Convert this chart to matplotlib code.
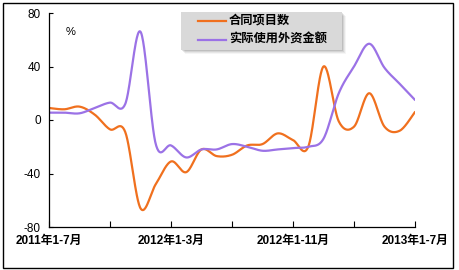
import numpy as np
import matplotlib
matplotlib.use("Agg")
import matplotlib.pyplot as plt
from matplotlib.patches import Rectangle

plt.rcParams['font.family'] = ['Liberation Sans', 'Noto Sans CJK SC', 'DejaVu Sans']

categories = (["2011年1-%d月" % m for m in range(7, 13)] +
              ["2012年1月"] + ["2012年1-%d月" % m for m in range(2, 13)] +
              ["2013年1月"] + ["2013年1-%d月" % m for m in range(2, 8)])
contracts = [9, 8, 10, 4, -7, -9, -66, -48, -31, -39, -22, -27, -26, -19, -18,
             -10, -15, -20, 40, -1, -5, 20, -5, -8, 6]
fdi = [5.5, 5.5, 5, 9, 13, 12, 66, -18, -19, -28, -22, -22, -18, -20, -23,
       -22, -21, -20, -14, 20, 40, 57, 39, 27, 15]
series_names = ["合同项目数", "实际使用外资金额"]
colors = ["#F0701E", "#9B72E6"]
yticks = [-80, -40, 0, 40, 80]
label_idx = [0, 8, 16, 24]


def smooth(x, y, n=30):
    x = np.asarray(x, float)
    y = np.asarray(y, float)
    px, py = [], []
    N = len(x)
    for i in range(N - 1):
        i0 = max(i - 1, 0)
        i3 = min(i + 2, N - 1)
        p0 = np.array([x[i], y[i]])
        p3 = np.array([x[i + 1], y[i + 1]])
        c1 = p0 + (p3 - np.array([x[i0], y[i0]])) / 6.0
        c2 = p3 - (np.array([x[i3], y[i3]]) - p0) / 6.0
        t = np.linspace(0, 1, n)[:, None]
        pts = ((1 - t) ** 3) * p0 + 3 * ((1 - t) ** 2) * t * c1 + 3 * (1 - t) * t ** 2 * c2 + t ** 3 * p3
        px.extend(pts[:, 0])
        py.extend(pts[:, 1])
    return np.array(px), np.array(py)


W, H = 460, 270
fig = plt.figure(figsize=(W / 100, H / 100), dpi=100)
ax = fig.add_axes([49 / W, (H - 227) / H, (415 - 49) / W, (227 - 13) / H])

xs = np.arange(len(categories))
for vals, c in zip([contracts, fdi], colors):
    sx, sy = smooth(xs, vals)
    ax.plot(sx, sy, color=c, lw=1.6, solid_capstyle='round')

ax.set_xlim(0, len(categories) - 1)
ax.set_ylim(-80, 80)
ax.set_yticks(yticks)
ax.set_yticklabels([str(v) for v in yticks], fontsize=8.5)
ax.set_xticks(np.arange(0, len(categories), 4))
ax.set_xticklabels([categories[i] if i in label_idx else "" for i in range(0, len(categories), 4)],
                   fontsize=8.5, fontweight='bold')
ax.tick_params(axis='y', direction='in', length=3, width=0.8, pad=6)
ax.tick_params(axis='x', direction='in', length=4, width=0.8, pad=6)
for s in ['top', 'right']:
    ax.spines[s].set_visible(False)
for s in ['left', 'bottom']:
    ax.spines[s].set_linewidth(0.9)
ax.text(0.045, 0.91, "%", transform=ax.transAxes, fontsize=8, ha='left', va='center')

# overlay in pixel coordinates
ov = fig.add_axes([0, 0, 1, 1], facecolor='none')
ov.set_xlim(0, W)
ov.set_ylim(H, 0)
ov.axis('off')
ov.add_patch(Rectangle((3, 3), 450, 265, fill=False, ec='black', lw=1.0))
# legend shadow
for k, a in enumerate([0.10, 0.08, 0.06, 0.04]):
    ov.add_patch(Rectangle((181 + 1 + k, 12 + 1 + k), 161, 38, fc='black', ec='none', alpha=a))
ov.add_patch(Rectangle((181, 12), 161, 38, fc='#D9D9D9', ec='none'))
for j, (name, c) in enumerate(zip(series_names, colors)):
    yy = 20.5 + j * 19.5
    ov.plot([198, 226], [yy, yy], color=c, lw=1.6)
    ov.text(229, yy, name, fontsize=8.8, fontweight='bold', ha='left', va='center')

fig.savefig("out.png", dpi=100)
